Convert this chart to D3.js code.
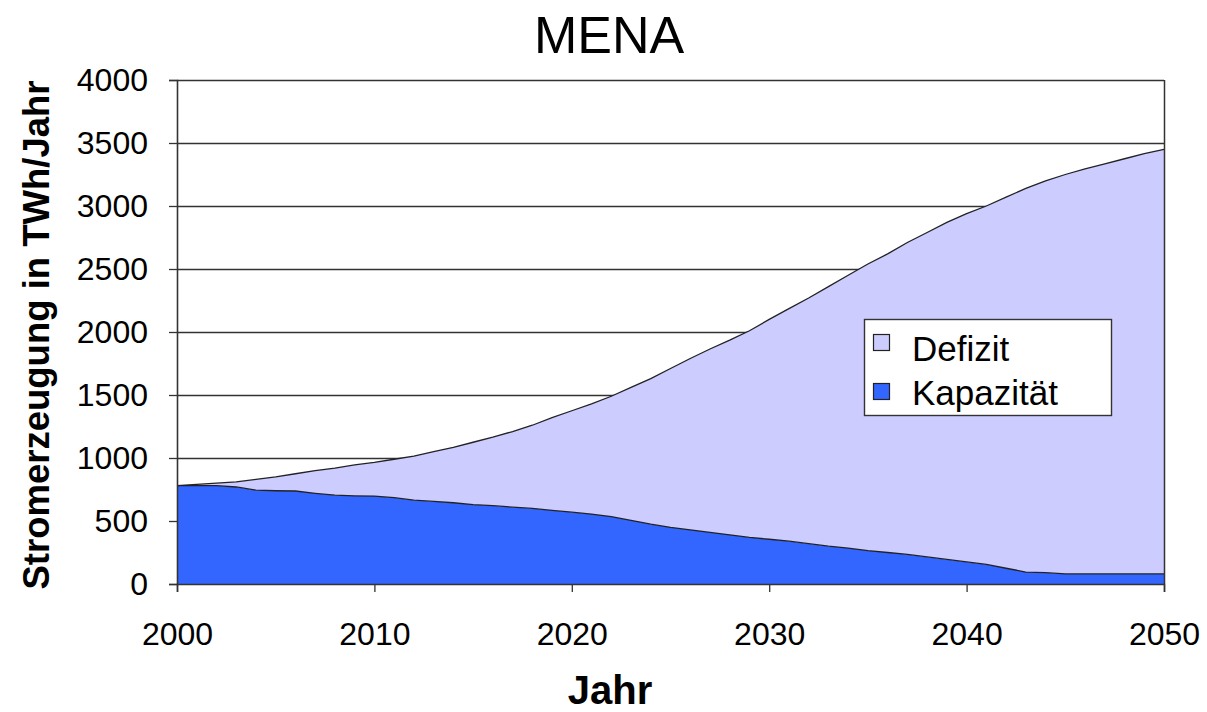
<!DOCTYPE html>
<html>
<head>
<meta charset="utf-8">
<script src="https://cdn.jsdelivr.net/npm/d3@7"></script>
<style>
  html, body { margin: 0; padding: 0; background: #fff; }
  svg { display: block; font-family: "Liberation Sans", Arial, sans-serif; }
</style>
</head>
<body>
<svg id="chart" width="1207" height="712"></svg>
<script>
// Jahre 2000–2050
const years = d3.range(2000, 2051);

// Stromerzeugung aus bestehender Kapazität (TWh/Jahr)
const kapazitaet = [
  780, 780, 780, 770, 745, 740, 738, 720, 705, 700,
  698, 685, 665, 655, 645, 630, 622, 610, 600, 585,
  570, 555, 535, 505, 475, 450, 430, 410, 390, 370,
  355, 340, 320, 300, 285, 265, 250, 235, 215, 195,
  175, 155, 125, 95, 90, 80, 80, 80, 80, 80,
  80
];

// Gesamtbedarf (TWh/Jahr)
const bedarf = [
  780, 790, 800, 810, 830, 850, 875, 900, 920, 945,
  965, 990, 1015, 1050, 1085, 1125, 1165, 1210, 1260, 1320,
  1375, 1430, 1490, 1560, 1630, 1710, 1790, 1865, 1935, 2010,
  2100, 2185, 2270, 2360, 2450, 2540, 2620, 2710, 2790, 2870,
  2940, 3000, 3070, 3140, 3200, 3250, 3295, 3335, 3375, 3415,
  3450
];

// Defizit = Bedarf − Kapazität
const defizit = bedarf.map((b, i) => b - kapazitaet[i]);

const yTicks = [0, 500, 1000, 1500, 2000, 2500, 3000, 3500, 4000];
const xTicks = [2000, 2010, 2020, 2030, 2040, 2050];

const seriesNames = ["Kapazität", "Defizit"];
const seriesColors = { "Kapazität": "#3366FF", "Defizit": "#CCCCFF" };
const legendOrder = ["Defizit", "Kapazität"];

const svg = d3.select("#chart");
const width = 1207, height = 712;
const margin = { left: 177, right: width - 1164, top: 80, bottom: height - 584 };
const FONT = "Liberation Sans, Arial, sans-serif";

const x = d3.scaleLinear().domain([2000, 2050]).range([margin.left, width - margin.right]);
const y = d3.scaleLinear().domain([0, 4000]).range([height - margin.bottom, margin.top]);

const rows = years.map((yr, i) => ({ year: yr, "Kapazität": kapazitaet[i], "Defizit": defizit[i] }));
const stacked = d3.stack().keys(seriesNames)(rows);

// Gitterlinien
svg.append("g")
  .selectAll("line")
  .data(yTicks.filter(t => t > 0))
  .join("line")
  .attr("x1", x(2000)).attr("x2", x(2050))
  .attr("y1", d => y(d) + 0.5).attr("y2", d => y(d) + 0.5)
  .attr("stroke", "#333").attr("stroke-width", 1.3);

// Flächen
const area = d3.area()
  .x(d => x(d.data.year))
  .y0(d => y(d[0]))
  .y1(d => y(d[1]))
  .curve(d3.curveLinear);

const topLine = d3.line()
  .x(d => x(d.data.year))
  .y(d => y(d[1]))
  .curve(d3.curveLinear);

svg.append("g")
  .selectAll("path")
  .data(stacked)
  .join("path")
  .attr("d", area)
  .attr("fill", d => seriesColors[d.key]);

svg.append("g")
  .selectAll("path")
  .data(stacked)
  .join("path")
  .attr("d", topLine)
  .attr("fill", "none")
  .attr("stroke", "#222")
  .attr("stroke-width", 1.3);

// Rechter Rahmen
svg.append("line")
  .attr("x1", x(2050) + 0.5).attr("x2", x(2050) + 0.5)
  .attr("y1", y(4000)).attr("y2", y(0))
  .attr("stroke", "#333").attr("stroke-width", 1.5);

// Achsen
const yAxis = d3.axisLeft(y).tickValues(yTicks).tickSize(8).tickPadding(21).tickFormat(d3.format("d"));
const gy = svg.append("g").attr("transform", `translate(${x(2000)},0)`).call(yAxis);
gy.attr("font-family", FONT).attr("font-size", 32);
gy.select(".domain").attr("stroke", "#333").attr("stroke-width", 1.6);
gy.selectAll(".tick line").attr("stroke", "#333").attr("stroke-width", 1.3);
gy.selectAll(".tick text").attr("fill", "#000");

const xAxis = d3.axisBottom(x).tickValues(xTicks).tickSize(8).tickPadding(30).tickFormat(d3.format("d"));
const gx = svg.append("g").attr("transform", `translate(0,${y(0)})`).call(xAxis);
gx.attr("font-family", FONT).attr("font-size", 32);
gx.select(".domain").attr("stroke", "#333").attr("stroke-width", 1.6);
gx.selectAll(".tick line").attr("stroke", "#333").attr("stroke-width", 1.3);
gx.selectAll(".tick text").attr("fill", "#000");

// Titel
svg.append("text")
  .attr("x", 609).attr("y", 53)
  .attr("text-anchor", "middle")
  .attr("font-size", 52)
  .text("MENA");

// Achsentitel
svg.append("text")
  .attr("x", 610).attr("y", 704)
  .attr("text-anchor", "middle")
  .attr("font-size", 40).attr("font-weight", "bold")
  .text("Jahr");

svg.append("text")
  .attr("transform", "translate(49,335) rotate(-90)")
  .attr("text-anchor", "middle")
  .attr("font-size", 36.5).attr("font-weight", "bold")
  .text("Stromerzeugung in TWh/Jahr");

// Legende
const lg = svg.append("g").attr("transform", "translate(864,319)");
lg.append("rect")
  .attr("x", 0.5).attr("y", 0.5).attr("width", 247).attr("height", 96)
  .attr("fill", "#fff").attr("stroke", "#333").attr("stroke-width", 1.4);
const items = lg.selectAll("g.item")
  .data(legendOrder)
  .join("g")
  .attr("class", "item");
items.append("rect")
  .attr("x", 9.5).attr("y", (d, i) => 15.5 + i * 49).attr("width", 16).attr("height", 16)
  .attr("fill", d => seriesColors[d]).attr("stroke", "#222").attr("stroke-width", 1.2);
items.append("text")
  .attr("x", 48).attr("y", (d, i) => 42 + i * 44)
  .attr("font-size", 35)
  .text(d => d);
</script>
</body>
</html>
